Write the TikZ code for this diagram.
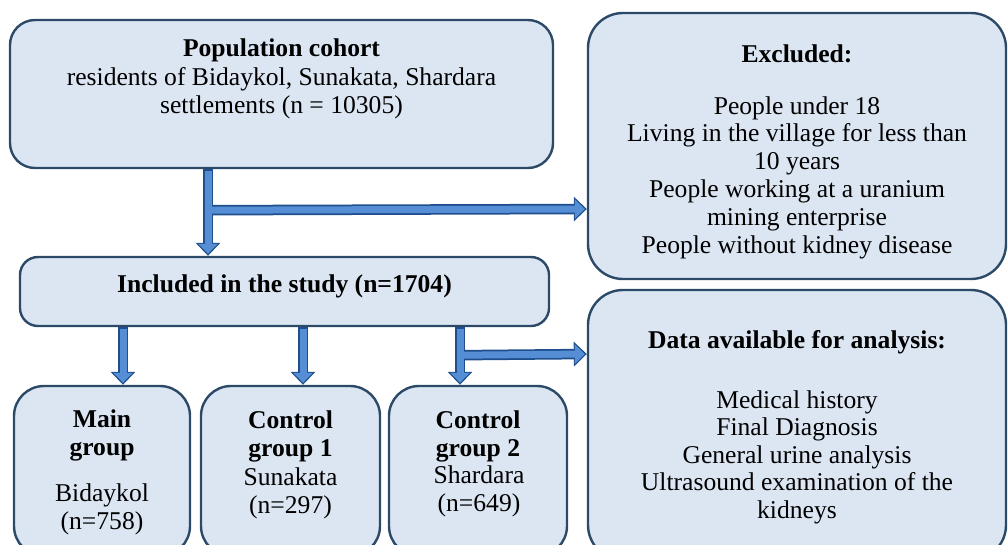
\documentclass[tikz,border=0pt]{standalone}
\usepackage{fontspec}
\setmainfont{Liberation Serif}
\usetikzlibrary{arrows.meta}
\definecolor{boxfill}{HTML}{DCE6F2}
\definecolor{boxdraw}{HTML}{2C4A68}
\definecolor{arrfill}{HTML}{558ED5}
\definecolor{arrdraw}{HTML}{1F4E8C}
\begin{document}
\begin{tikzpicture}[x=1pt,y=-1pt,
 box/.style={draw=boxdraw, fill=boxfill, line width=2.4pt, rounded corners=#1, inner sep=0pt},
 box/.default=25pt,
 txt/.style={align=center, font=\fontsize{25.6}{28}\selectfont, inner sep=0pt},
 btxt/.style={align=center, font=\fontsize{25.6}{28}\selectfont\bfseries, inner sep=0pt},
 arrout/.style={draw=arrdraw, line width=10.5pt, -{Triangle[width=24pt,length=13pt]}},
 arrin/.style={draw=arrfill, line width=7pt, shorten >=2pt, -{Triangle[width=19pt,length=10pt]}},
]
\useasboundingbox (0,0) rectangle (1008,544);

% boxes
\node[box, minimum width=543pt, minimum height=148pt] (cohort) at (281.5,94) {};
\node[box=35pt, minimum width=418pt, minimum height=266pt] (excluded) at (797,146) {};
\node[box=35pt, minimum width=418pt, minimum height=270pt] (data) at (797,425) {};
\node[box=18pt, minimum width=529pt, minimum height=69pt] (included) at (284.5,291.5) {};
\node[box=30pt, minimum width=176pt, minimum height=170pt] (main) at (102,471) {};
\node[box=30pt, minimum width=179pt, minimum height=170pt] (ctrlA) at (290.5,471) {};
\node[box=30pt, minimum width=178pt, minimum height=170pt] (ctrlB) at (478,471) {};

% texts
\node[btxt] (cohortT) at (281.5,50) {Population cohort};
\node[txt] (cohortB) at (281.5,93) {residents of Bidaykol, Sunakata, Shardara\\settlements (n = 10305)};
\node[btxt] (exclT) at (797,54) {Excluded:};
\node[txt, font=\fontsize{25.6}{27.8}\selectfont] (exclB) at (797,177.5) {People under 18\\Living in the village for less than\\10 years\\People working at a uranium\\mining enterprise\\People without kidney disease};
\node[btxt] (dataT) at (797,342.5) {Data available for analysis:};
\node[txt, font=\fontsize{25.6}{27.5}\selectfont] (dataB) at (797,457) {Medical history\\Final Diagnosis\\General urine analysis\\Ultrasound examination of the\\kidneys};
\node[btxt] (inclT) at (284.5,286) {Included in the study (n=1704)};
\node[btxt] (mainT) at (102,435) {Main\\group};
\node[txt] (mainB) at (102,509) {Bidaykol\\(n=758)};
\node[btxt] (ctrlAT) at (290.5,436.5) {Control\\group 1};
\node[txt] (ctrlAB) at (290.5,493.5) {Sunakata\\(n=297)};
\node[btxt] (ctrlBT) at (478,436.5) {Control\\group 2};
\node[txt] (ctrlBB) at (479,491.5) {Shardara\\(n=649)};

% arrow outlines
\draw[arrout] ([xshift=-73.5pt]cohort.south) -- ([xshift=-76.5pt]included.north);
\draw[arrout] ([xshift=-73.5pt,yshift=-41pt]cohort.south) -- ([yshift=-63pt]excluded.west);
\draw[arrout] ([xshift=-161.5pt]included.south) -- ([xshift=21pt]main.north);
\draw[arrout] ([xshift=18.5pt]included.south) -- ([xshift=12.5pt]ctrlA.north);
\draw[arrout] ([xshift=175.5pt]included.south) -- ([xshift=-18pt]ctrlB.north);
\draw[arrout] ([xshift=175.5pt,yshift=-28pt]included.south) -- ([yshift=71pt]data.west);
% arrow fills
\draw[arrin] ([xshift=-73.5pt,yshift=-1.5pt]cohort.south) -- ([xshift=-76.5pt]included.north);
\draw[arrin] ([xshift=-73.5pt,yshift=-41pt]cohort.south) -- ([yshift=-63pt]excluded.west);
\draw[arrin] ([xshift=-161.5pt,yshift=-1.5pt]included.south) -- ([xshift=21pt]main.north);
\draw[arrin] ([xshift=18.5pt,yshift=-1.5pt]included.south) -- ([xshift=12.5pt]ctrlA.north);
\draw[arrin] ([xshift=175.5pt,yshift=-1.5pt]included.south) -- ([xshift=-18pt]ctrlB.north);
\draw[arrin] ([xshift=175.5pt,yshift=-28pt]included.south) -- ([yshift=71pt]data.west);
\end{tikzpicture}
\end{document}
